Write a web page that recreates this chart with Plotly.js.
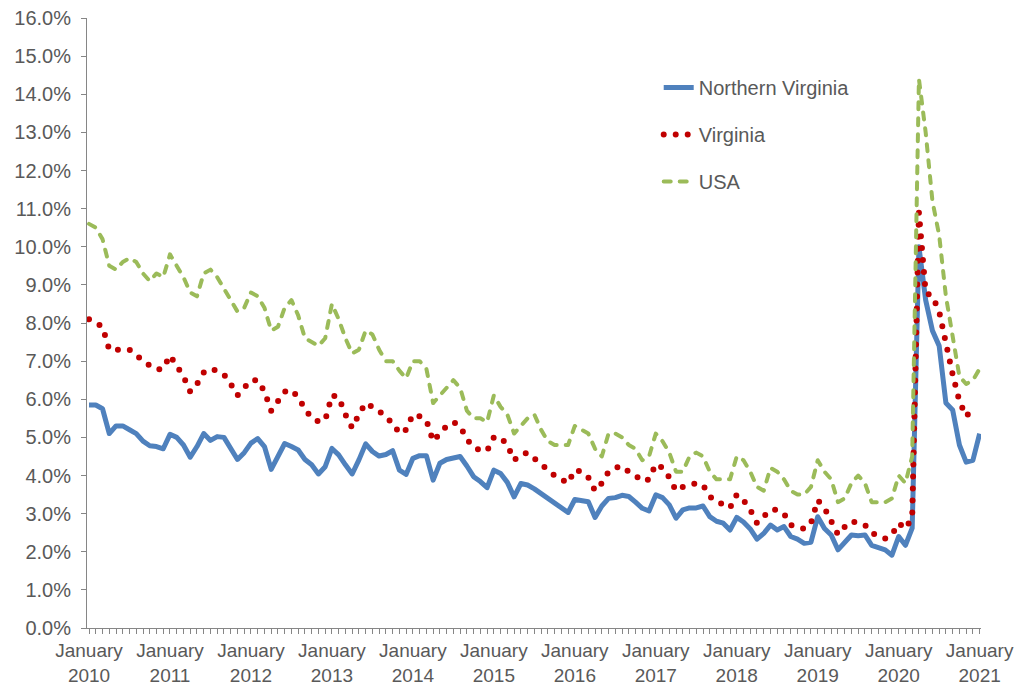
<!DOCTYPE html>
<html>
<head>
<meta charset="utf-8">
<script src="https://cdn.plot.ly/plotly-3.0.1.min.js"></script>
<style>
  html, body { margin: 0; padding: 0; background: #fff; }
  #chart { width: 1029px; height: 685px; }
  path.js-line { stroke-linejoin: round; }
  path.js-line[style*="192, 0, 0"], path.js-line[style*="155, 187, 89"] { stroke-linecap: round; }
</style>
</head>
<body>
<div id="chart"></div>
<script>
// Tick labels (one per January)
const years = ['2010','2011','2012','2013','2014','2015','2016','2017','2018','2019','2020','2021'];

// Monthly unemployment rate (%), Jan 2010 .. Jan 2021
const northernVirginia = [
  5.85, 5.85, 5.75, 5.1, 5.3, 5.3, 5.2, 5.1, 4.9, 4.78, 4.76, 4.7,
  5.08, 5.0, 4.8, 4.48, 4.76, 5.1, 4.92, 5.02, 5.0, 4.7, 4.42, 4.6,
  4.85, 4.97, 4.76, 4.16, 4.5, 4.84, 4.76, 4.67, 4.42, 4.28, 4.04, 4.23,
  4.71, 4.54, 4.28, 4.04, 4.41, 4.83, 4.63, 4.51, 4.55, 4.65, 4.14, 4.03,
  4.45, 4.52, 4.52, 3.88, 4.32, 4.42, 4.46, 4.5, 4.25, 3.97, 3.84, 3.68,
  4.14, 4.05, 3.82, 3.44, 3.79, 3.75, 3.65, 3.52, 3.42, 3.3, 3.16, 3.03,
  3.37, 3.33, 3.31, 2.9, 3.2, 3.4, 3.42, 3.48, 3.45, 3.3, 3.14, 3.07,
  3.49, 3.42, 3.23, 2.88, 3.1, 3.15, 3.15, 3.2, 2.92, 2.8, 2.75, 2.57,
  2.9, 2.78, 2.6, 2.33, 2.48, 2.7, 2.57, 2.66, 2.4, 2.33, 2.22, 2.25,
  2.92, 2.61, 2.44, 2.05, 2.26, 2.44, 2.42, 2.44, 2.17, 2.12, 2.05, 1.91,
  2.4, 2.17, 2.62, 10.0, 8.6, 7.8, 7.4, 5.9, 5.72, 4.8, 4.35, 4.4,
  5.1
];

const virginia = [
  8.1, 8.0, 7.9, 7.3, 7.3, 7.3, 7.3, 7.15, 7.0, 6.88, 6.78, 6.8,
  7.15, 6.9, 6.6, 6.2, 6.4, 6.7, 6.8, 6.75, 6.65, 6.4, 6.1, 6.3,
  6.5, 6.5, 6.2, 5.7, 5.95, 6.2, 6.25, 6.05, 5.75, 5.5, 5.42, 5.45,
  6.1, 6.05, 5.6, 5.25, 5.6, 5.9, 5.8, 5.7, 5.5, 5.4, 5.1, 5.2,
  5.6, 5.55, 5.45, 4.9, 5.1, 5.3, 5.4, 5.3, 4.95, 4.75, 4.65, 4.65,
  5.0, 5.0, 4.8, 4.4, 4.55, 4.6, 4.45, 4.3, 4.1, 4.0, 3.9, 3.8,
  4.15, 4.1, 3.95, 3.6, 3.8, 4.1, 4.2, 4.25, 4.1, 4.0, 3.85, 3.9,
  4.3, 4.2, 3.95, 3.6, 3.7, 3.75, 3.8, 3.75, 3.45, 3.3, 3.25, 3.15,
  3.5, 3.35, 3.1, 2.75, 2.9, 3.1, 3.1, 3.0, 2.7, 2.65, 2.6, 2.75,
  3.35, 3.15, 2.8, 2.45, 2.65, 2.8, 2.75, 2.7, 2.5, 2.4, 2.35, 2.45,
  2.75, 2.6, 2.9, 10.9, 8.8, 8.7, 8.3, 7.45, 6.65, 5.95, 5.55, 5.75,
  null
];

const usa = [
  10.6, 10.5, 10.2, 9.5, 9.4, 9.6, 9.7, 9.6, 9.3, 9.1, 9.3, 9.2,
  9.8, 9.5, 9.2, 8.8, 8.7, 9.3, 9.4, 9.2, 8.9, 8.6, 8.3, 8.4,
  8.8, 8.7, 8.4, 7.8, 7.9, 8.4, 8.6, 8.2, 7.6, 7.5, 7.4, 7.6,
  8.5, 8.1, 7.6, 7.2, 7.3, 7.8, 7.7, 7.3, 7.0, 7.0, 6.75, 6.55,
  7.0, 7.0, 6.8, 5.9, 6.1, 6.3, 6.5, 6.3, 5.7, 5.5, 5.5, 5.4,
  6.1, 5.8, 5.6, 5.1, 5.3, 5.5, 5.6, 5.2, 4.9, 4.8, 4.8, 4.8,
  5.3, 5.2, 5.1, 4.7, 4.5, 5.1, 5.1, 5.0, 4.8, 4.7, 4.4, 4.5,
  5.1, 4.9, 4.6, 4.1, 4.1, 4.5, 4.6, 4.5, 4.1, 3.9, 3.9, 3.9,
  4.5, 4.4, 4.1, 3.7, 3.6, 4.2, 4.1, 3.9, 3.6, 3.5, 3.5, 3.7,
  4.4, 4.1, 3.9, 3.3, 3.4, 3.8, 4.0, 3.8, 3.3, 3.3, 3.3, 3.4,
  4.0, 3.8, 4.5, 14.4, 13.0, 11.2, 10.3, 8.7, 7.7, 6.6, 6.4, 6.5,
  6.8
];

const seriesNames = ['Northern Virginia', 'Virginia', 'USA'];

// month index (category positions along the axis)
const monthIndex = northernVirginia.map((_, i) => i);
const tickPositions = years.map((_, k) => k * 12);
const tickText = years.map(y => 'January<br>' + y);

const FONT = 'Liberation Sans, Arial, sans-serif';
const TXT = '#595959';
const AX = '#868686';

const traces = [
  {
    x: monthIndex, y: northernVirginia, name: seriesNames[0], type: 'scatter', mode: 'lines',
    line: { color: '#4f81bd', width: 5 }, legendgroup: 'a'
  },
  {
    x: monthIndex, y: virginia, name: seriesNames[1], type: 'scatter', mode: 'lines',
    line: { color: '#c00000', width: 6, dash: '0px,12px' }, legendgroup: 'b'
  },
  {
    x: monthIndex, y: usa, name: seriesNames[2], type: 'scatter', mode: 'lines',
    line: { color: '#9bbb59', width: 4, dash: '7px,9px' }, legendgroup: 'c'
  }
];

const layout = {
  width: 1029, height: 685,
  margin: { l: 87, r: 48, t: 18, b: 57 },
  paper_bgcolor: '#ffffff', plot_bgcolor: '#ffffff',
  font: { family: FONT, size: 20, color: TXT },
  showlegend: true,
  legend: {
    x: 0.6395, y: 0.918, xanchor: 'left', yanchor: 'top',
    bgcolor: 'rgba(0,0,0,0)', borderwidth: 0,
    font: { family: FONT, size: 20, color: TXT },
    traceorder: 'grouped', tracegroupgap: 18
  },
  xaxis: {
    range: [-0.3, 132.2],
    tickmode: 'array', tickvals: tickPositions, ticktext: tickText,
    ticks: 'outside', ticklen: 5, tickcolor: AX, tickwidth: 1,
    minor: { tickmode: 'linear', tick0: 0, dtick: 1, ticks: 'outside', ticklen: 5, tickcolor: AX, tickwidth: 1, showgrid: false },
    showline: true, linecolor: AX, linewidth: 1,
    showgrid: false, zeroline: false,
    tickfont: { family: FONT, size: 19, color: TXT }
  },
  yaxis: {
    range: [0, 16], dtick: 1, tick0: 0,
    tickformat: '.1f', ticksuffix: '%',
    ticks: 'outside', ticklen: 5, tickcolor: AX, tickwidth: 1,
    ticklabelstandoff: 6,
    showline: true, linecolor: AX, linewidth: 1,
    showgrid: false, zeroline: false,
    tickfont: { family: FONT, size: 20, color: TXT }
  }
};

Plotly.newPlot('chart', traces, layout, { staticPlot: true, displayModeBar: false });
</script>
</body>
</html>
